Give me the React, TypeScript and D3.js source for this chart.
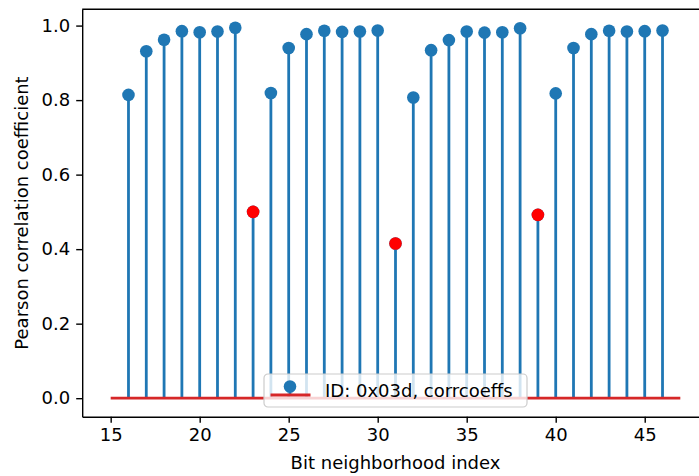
import React, { useRef, useEffect } from "react";
import * as d3 from "d3";

// bit neighborhood indices and their Pearson correlation coefficients
const indices = [
  16, 17, 18, 19, 20, 21, 22, 23, 24, 25, 26, 27, 28, 29, 30, 31,
  32, 33, 34, 35, 36, 37, 38, 39, 40, 41, 42, 43, 44, 45, 46,
];
const corrcoeffs = [
  0.814, 0.931, 0.962, 0.985, 0.982, 0.984, 0.994, 0.5, 0.819, 0.94, 0.977,
  0.986, 0.983, 0.984, 0.987, 0.415, 0.807, 0.934, 0.961, 0.984, 0.981, 0.982,
  0.993, 0.492, 0.818, 0.94, 0.977, 0.986, 0.984, 0.985, 0.987,
];
// the outliers highlighted in red
const lowIndices = [23, 31, 39];
const baselineRange = [15, 47];
const xTicks = [15, 20, 25, 30, 35, 40, 45];
const yTicks = [0, 0.2, 0.4, 0.6, 0.8, 1.0];
const legendLabel = "ID: 0x03d, corrcoeffs";

const BLUE = "#1f77b4";
const BASE_RED = "#d62728";
const FONT = "DejaVu Sans, sans-serif";

const App: React.FC = () => {
  const svgRef = useRef<SVGSVGElement | null>(null);

  useEffect(() => {
    if (!svgRef.current) return;
    const svg = d3.select(svgRef.current);
    svg.selectAll("*").remove();

    const left = 82.2;
    const right = 708.8;
    const top = 9.3;
    const bottom = 416.7;
    const fs = 18;

    const xPad = (baselineRange[1] - baselineRange[0]) * 0.05;
    const x = d3
      .scaleLinear()
      .domain([baselineRange[0] - xPad, baselineRange[1] + xPad])
      .range([left, right]);
    const yMax = d3.max(corrcoeffs) || 1;
    const y = d3
      .scaleLinear()
      .domain([-yMax * 0.05, yMax * 1.05])
      .range([bottom, top]);

    const data = indices.map((d, i) => ({ idx: d, v: corrcoeffs[i] }));

    // stems
    svg
      .append("g")
      .selectAll("line")
      .data(data)
      .join("line")
      .attr("x1", (d) => x(d.idx))
      .attr("x2", (d) => x(d.idx))
      .attr("y1", y(0))
      .attr("y2", (d) => y(d.v))
      .attr("stroke", BLUE)
      .attr("stroke-width", 2.8);

    // baseline
    svg
      .append("line")
      .attr("x1", x(baselineRange[0]))
      .attr("x2", x(baselineRange[1]))
      .attr("y1", y(0))
      .attr("y2", y(0))
      .attr("stroke", BASE_RED)
      .attr("stroke-width", 2.8);

    // markers
    svg
      .append("g")
      .selectAll("circle")
      .data(data)
      .join("circle")
      .attr("cx", (d) => x(d.idx))
      .attr("cy", (d) => y(d.v))
      .attr("r", 6.3)
      .attr("fill", BLUE);

    svg
      .append("g")
      .selectAll("circle")
      .data(data.filter((d) => lowIndices.includes(d.idx)))
      .join("circle")
      .attr("cx", (d) => x(d.idx))
      .attr("cy", (d) => y(d.v))
      .attr("r", 6.3)
      .attr("fill", "#ff0000");

    // x axis
    const xAxis = svg
      .append("g")
      .attr("transform", `translate(0,${bottom})`)
      .call(
        d3
          .axisBottom(x)
          .tickValues(xTicks)
          .tickSizeInner(6)
          .tickSizeOuter(0)
          .tickPadding(6)
          .tickFormat(d3.format("d"))
      );
    xAxis.select(".domain").attr("stroke", "#000").attr("stroke-width", 1.4);
    xAxis.selectAll(".tick line").attr("stroke-width", 1.4);
    xAxis.selectAll(".tick text").attr("font-size", fs).attr("font-family", FONT).attr("fill", "#000");

    // y axis
    const yAxis = svg
      .append("g")
      .attr("transform", `translate(${left},0)`)
      .call(
        d3
          .axisLeft(y)
          .tickValues(yTicks)
          .tickSizeInner(6)
          .tickSizeOuter(0)
          .tickPadding(6)
          .tickFormat(d3.format(".1f"))
      );
    yAxis.select(".domain").attr("stroke", "#000").attr("stroke-width", 1.4);
    yAxis.selectAll(".tick line").attr("stroke-width", 1.4);
    yAxis.selectAll(".tick text").attr("font-size", fs).attr("font-family", FONT).attr("fill", "#000");

    // top / right spines
    svg
      .append("line")
      .attr("x1", left)
      .attr("x2", right)
      .attr("y1", top)
      .attr("y2", top)
      .attr("stroke", "#000")
      .attr("stroke-width", 1.4);
    svg
      .append("line")
      .attr("x1", right)
      .attr("x2", right)
      .attr("y1", top)
      .attr("y2", bottom)
      .attr("stroke", "#000")
      .attr("stroke-width", 1.4);

    // axis labels
    svg
      .append("text")
      .attr("x", (left + right) / 2)
      .attr("y", 469)
      .attr("text-anchor", "middle")
      .attr("font-size", fs)
      .attr("font-family", FONT)
      .text("Bit neighborhood index");
    svg
      .append("text")
      .attr("transform", `translate(28,${(top + bottom) / 2}) rotate(-90)`)
      .attr("text-anchor", "middle")
      .attr("font-size", fs)
      .attr("font-family", FONT)
      .text("Pearson correlation coefficient");

    // legend
    const lg = svg.append("g").attr("transform", "translate(264,374)");
    lg.append("rect")
      .attr("width", 263)
      .attr("height", 33)
      .attr("rx", 4)
      .attr("fill", "#fff")
      .attr("fill-opacity", 0.8)
      .attr("stroke", "#cccccc")
      .attr("stroke-width", 1.2);
    lg.append("line")
      .attr("x1", 26)
      .attr("x2", 26)
      .attr("y1", 12.5)
      .attr("y2", 21)
      .attr("stroke", BLUE)
      .attr("stroke-width", 2.8);
    lg.append("line")
      .attr("x1", 6.5)
      .attr("x2", 46.5)
      .attr("y1", 21)
      .attr("y2", 21)
      .attr("stroke", BASE_RED)
      .attr("stroke-width", 2.8);
    lg.append("circle").attr("cx", 26).attr("cy", 12.5).attr("r", 6.3).attr("fill", BLUE);
    lg.append("text")
      .attr("x", 61)
      .attr("y", 22.5)
      .attr("font-size", fs)
      .attr("font-family", FONT)
      .text(legendLabel);
  }, []);

  return (
    <svg
      ref={svgRef}
      width={699}
      height={476}
      style={{ position: "absolute", left: 0, top: 0, background: "#fff" }}
    />
  );
};

export default App;
